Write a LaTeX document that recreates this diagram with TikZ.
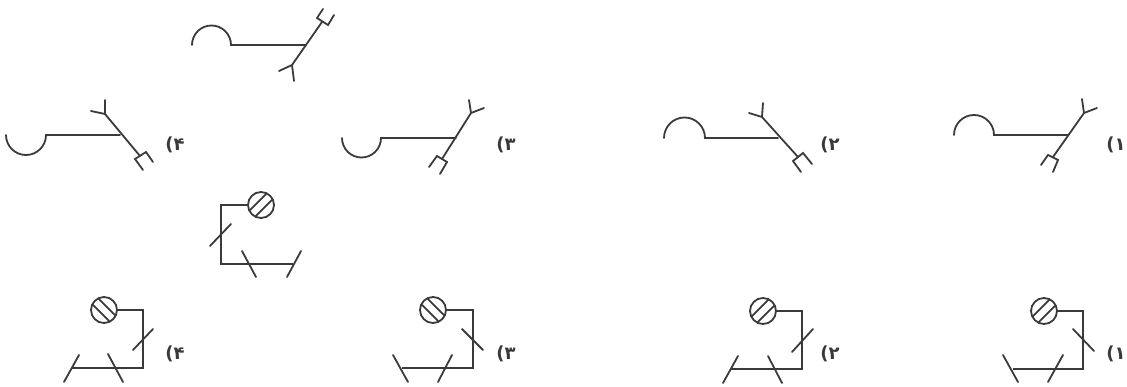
\documentclass[tikz,border=0pt]{standalone}
\usepackage{fontspec}
\newfontfamily\arabicfont[Script=Arabic]{DejaVu Sans}
\TeXXeTstate=1
\definecolor{ink}{HTML}{3A3A3A}
\tikzset{
  ink line/.style={draw=ink,line width=1.8pt,line cap=round,line join=miter},
  lamp/.style={circle,draw=ink,line width=1.8pt,minimum size=26pt,inner sep=0pt,outer sep=0pt},
  choice/.style={inner sep=0pt,text=ink,font=\arabicfont\bfseries\fontsize{18}{18}\selectfont}
}
% hatch: lamp name, centre, angle of the stripes
\newcommand{\hatchlamp}[3]{%
  \node[lamp] (#1) at (#2) {};
  \begin{scope}[shift={(#2)},rotate=#3]
    \draw[ink line,line cap=butt] (-11.5,-4.2) -- (11.5,-4.2);
    \draw[ink line,line cap=butt] (-11.5,4.2) -- (11.5,4.2);
  \end{scope}}
\begin{document}
\begin{tikzpicture}[x=1pt,y=-1pt]
\useasboundingbox (0,0) rectangle (1127,387);
% ---- upper row: question
\draw[ink line] (192,45) arc[start angle=180,end angle=360,radius=19.5] -- (306,45);
\draw[ink line] (322,22) -- (292,65) -- (279,71) (292,65) -- (294,81);
\draw[ink line] (323,9) -- (317,18) -- (328,25) -- (334,15);
% option 4
\draw[ink line] (6,135) arc[start angle=180,end angle=0,radius=20] -- (120,135);
\draw[ink line] (140,156) -- (105,114) -- (91,111) (105,114) -- (105,100);
\draw[ink line] (143,170) -- (135,159) -- (146,152) -- (153,162);
\node[choice] (a4) at (175,145) {\beginR ۴)\endR};
% option 3
\draw[ink line] (342,138) arc[start angle=180,end angle=0,radius=19.5] -- (456,138);
\draw[ink line] (442,159) -- (471,113) -- (484,108) (471,113) -- (469,100);
\draw[ink line] (429,167) -- (437,156) -- (447,162) -- (440,174);
\node[choice] (a3) at (506,145) {\beginR ۳)\endR};
% option 2
\draw[ink line] (664,138) arc[start angle=180,end angle=360,radius=20.5] -- (778,138);
\draw[ink line] (798,157) -- (762,117) -- (749,113) (762,117) -- (763,103);
\draw[ink line] (801,172) -- (793,161) -- (803,153) -- (812,164);
\node[choice] (a2) at (830,145) {\beginR ۲)\endR};
% option 1
\draw[ink line] (954,135) arc[start angle=180,end angle=360,radius=20] -- (1068,135);
\draw[ink line] (1053,157) -- (1084,113) -- (1097,108) (1084,113) -- (1082,99);
\draw[ink line] (1041,165) -- (1048,155) -- (1058,160) -- (1053,172);
\node[choice] (a1) at (1116,145) {\beginR ۱)\endR};
% ---- lower row: question
\hatchlamp{q}{261,205}{45}
\draw[ink line,line cap=butt] (q.west) -- (221,205) -- (221,264) -- (293,264);
\draw[ink line] (210,246) -- (231,224) (242,251) -- (256,277) (301,251) -- (287,277);
% option 4
\hatchlamp{l4}{104,310}{-45}
\draw[ink line,line cap=butt] (l4.east) -- (143,310) -- (143,368) -- (72,368);
\draw[ink line] (133,350) -- (153,329) (79,355) -- (64,382) (108,354) -- (123,382);
\node[choice] (b4) at (175,354) {\beginR ۴)\endR};
% option 3
\hatchlamp{l3}{433,310}{-45}
\draw[ink line,line cap=butt] (l3.east) -- (473,310) -- (473,368) -- (402,368);
\draw[ink line] (462,329) -- (483,350) (393,355) -- (408,382) (452,355) -- (438,382);
\node[choice] (b3) at (506,354) {\beginR ۳)\endR};
% option 2
\hatchlamp{l2}{763,311}{45}
\draw[ink line,line cap=butt] (l2.east) -- (802,311) -- (802,369) -- (730,369);
\draw[ink line] (792,352) -- (813,329) (738,356) -- (723,383) (768,356) -- (782,383);
\node[choice] (b2) at (830,354) {\beginR ۲)\endR};
% option 1
\hatchlamp{l1}{1044,311}{45}
\draw[ink line,line cap=butt] (l1.east) -- (1083,311) -- (1083,369) -- (1013,369);
\draw[ink line] (1073,329) -- (1094,351) (1003,355) -- (1018,382) (1063,355) -- (1048,382);
\node[choice] (b1) at (1116,354) {\beginR ۱)\endR};
\end{tikzpicture}
\end{document}
